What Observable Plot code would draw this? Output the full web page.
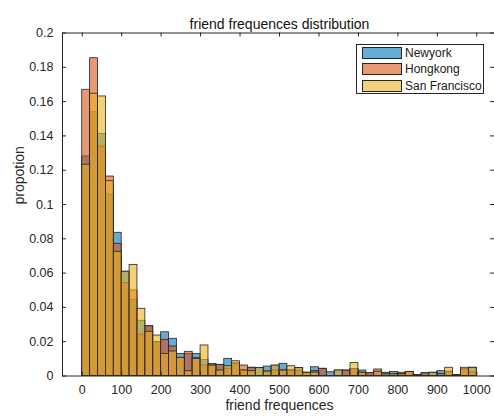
<!DOCTYPE html>
<html>
<head>
<meta charset="utf-8">
<script src="https://cdn.jsdelivr.net/npm/d3@7"></script>
<script src="https://cdn.jsdelivr.net/npm/@observablehq/plot@0.6"></script>
<style>
  html, body { margin: 0; padding: 0; background: #fff; }
  #wrap { position: relative; width: 494px; height: 416px; overflow: hidden; }
  #legend {
    position: absolute; left: 356px; top: 44px; width: 128px; height: 50px;
    border: 1px solid #262626; background: #fff; box-sizing: border-box;
    font-family: "Liberation Sans", Arial, Helvetica, sans-serif; font-size: 12px; color: #1a1a1a;
  }
  .row { position: absolute; left: 5px; height: 12px; display: flex; align-items: center; white-space: nowrap; }
  .sw { width: 40px; height: 12px; border: 1px solid #262626; box-sizing: border-box; margin-right: 3px; flex: none; }
</style>
</head>
<body>
<div id="wrap"></div>
<script>
// histogram bin left edges (bin width 20)
const binStart = [0, 20, 40, 60, 80, 100, 120, 140, 160, 180,
  200, 220, 240, 260, 280, 300, 320, 340, 360, 380,
  400, 420, 440, 460, 480, 500, 520, 540, 560, 580,
  600, 620, 640, 660, 680, 700, 720, 740, 760, 780,
  800, 820, 840, 860, 880, 900, 920, 940, 960, 980];
const binWidth = 20;

const cities = ["Newyork", "Hongkong", "San Francisco"];
const cityColors = ["#0072BD", "#D95319", "#EDB120"];

// proportion of users per bin
const newyork = [0.1280, 0.1538, 0.1412, 0.1058, 0.0835, 0.0608, 0.0444, 0.0322, 0.0290, 0.0197,
  0.0255, 0.0217, 0.0129, 0.0129, 0.0129, 0.0094, 0.0071, 0.0065, 0.0100, 0.0070,
  0.0032, 0.0048, 0.0046, 0.0055, 0.0060, 0.0071, 0.0036, 0.0046, 0.0019, 0.0051,
  0.0042, 0.0022, 0.0032, 0.0032, 0.0040, 0.0032, 0.0016, 0.0025, 0.0019, 0.0024,
  0.0019, 0.0024, 0.0006, 0.0016, 0.0019, 0.0028, 0.0025, 0.0006, 0.0038, 0.0048];
const hongkong = [0.1669, 0.1853, 0.1338, 0.1163, 0.0771, 0.0541, 0.0499, 0.0242, 0.0290, 0.0197,
  0.0211, 0.0172, 0.0106, 0.0141, 0.0104, 0.0061, 0.0061, 0.0065, 0.0042, 0.0075,
  0.0061, 0.0048, 0.0000, 0.0026, 0.0032, 0.0032, 0.0030, 0.0028, 0.0019, 0.0028,
  0.0042, 0.0000, 0.0000, 0.0032, 0.0040, 0.0019, 0.0016, 0.0038, 0.0010, 0.0010,
  0.0010, 0.0024, 0.0006, 0.0016, 0.0000, 0.0010, 0.0025, 0.0006, 0.0040, 0.0020];
const sanFrancisco = [0.1232, 0.1646, 0.1630, 0.1136, 0.0724, 0.0608, 0.0648, 0.0392, 0.0258, 0.0236,
  0.0129, 0.0143, 0.0106, 0.0028, 0.0100, 0.0178, 0.0061, 0.0032, 0.0057, 0.0086,
  0.0032, 0.0028, 0.0046, 0.0026, 0.0061, 0.0032, 0.0057, 0.0046, 0.0019, 0.0020,
  0.0000, 0.0000, 0.0032, 0.0000, 0.0075, 0.0019, 0.0000, 0.0025, 0.0010, 0.0010,
  0.0010, 0.0024, 0.0006, 0.0000, 0.0019, 0.0010, 0.0048, 0.0006, 0.0048, 0.0048];

const xTicks = [0, 100, 200, 300, 400, 500, 600, 700, 800, 900, 1000];
const yTicks = [0, 0.02, 0.04, 0.06, 0.08, 0.1, 0.12, 0.14, 0.16, 0.18, 0.2];

const series = [newyork, hongkong, sanFrancisco];
const rows = series.map(values => binStart.map((x0, i) => ({x0, x1: x0 + binWidth, v: values[i]})));

const W = 494, H = 416;
const mL = 62, mR = -2, mT = 32.5, mB = 40.5;
const plotW = W - mL - mR, plotH = H - mT - mB;
const axisColor = "#262626";
const font = "'Liberation Sans', Arial, Helvetica, sans-serif";

const chart = Plot.plot({
  width: W,
  height: H,
  marginLeft: mL,
  marginRight: mR,
  marginTop: mT,
  marginBottom: mB,
  style: {fontFamily: font, fontSize: "12px", color: axisColor, background: "#fff"},
  x: {domain: [-50, 1050]},
  y: {domain: [0, 0.2]},
  marks: [
    // overlaid histograms, drawn in legend order with partial transparency
    ...rows.map((data, k) => Plot.rect(data, {
      x1: "x0", x2: "x1", y1: 0, y2: "v",
      fill: cityColors[k], fillOpacity: 0.6,
      stroke: axisColor, strokeWidth: 0.8
    })),
    Plot.frame({stroke: axisColor, strokeWidth: 1}),
    // inward-pointing ticks on all four sides
    Plot.tickY(yTicks, {y: d => d, stroke: axisColor, insetRight: plotW - 4}),
    Plot.tickY(yTicks, {y: d => d, stroke: axisColor, insetLeft: plotW - 6}),
    Plot.tickX(xTicks, {x: d => d, stroke: axisColor, insetTop: plotH - 4}),
    Plot.tickX(xTicks, {x: d => d, stroke: axisColor, insetBottom: plotH - 4}),
    Plot.axisX({ticks: xTicks, tickSize: 0, tickPadding: 9, label: null, tickFormat: d => String(d), fontSize: 12.5, fill: axisColor}),
    Plot.axisY({ticks: yTicks, tickSize: 0, tickPadding: 9, label: null, tickFormat: d => String(d), fontSize: 12.5, fill: axisColor}),
    Plot.text(["friend frequences distribution"], {frameAnchor: "top", dy: -14, fontSize: 14, fill: "#111"}),
    Plot.text(["friend frequences"], {frameAnchor: "bottom", dy: 34, fontSize: 14, fill: axisColor}),
    Plot.text(["propotion"], {frameAnchor: "left", dx: -43, rotate: -90, fontSize: 14, fill: axisColor})
  ]
});

const wrap = document.getElementById("wrap");
wrap.appendChild(chart);

// legend box in the upper right of the axes
const legend = document.createElement("div");
legend.id = "legend";
cities.forEach((name, k) => {
  const row = document.createElement("div");
  row.className = "row";
  row.style.top = (2 + k * 16.3) + "px";
  const sw = document.createElement("div");
  sw.className = "sw";
  sw.style.background = d3.color(cityColors[k]).copy({opacity: 0.6}).formatRgb();
  const label = document.createElement("span");
  label.textContent = name;
  row.appendChild(sw);
  row.appendChild(label);
  legend.appendChild(row);
});
wrap.appendChild(legend);
</script>
</body>
</html>
